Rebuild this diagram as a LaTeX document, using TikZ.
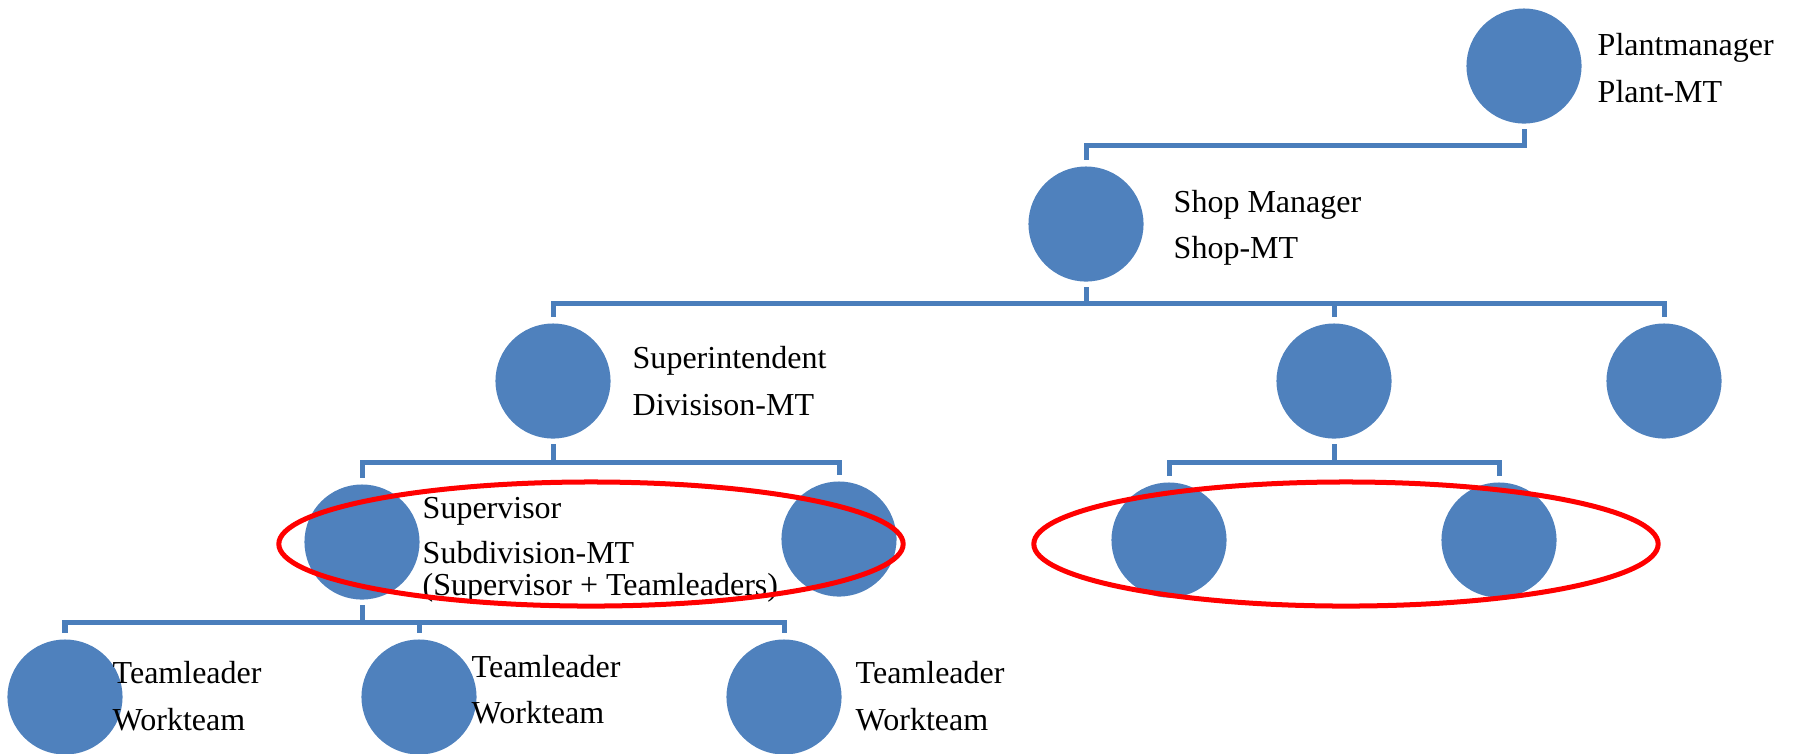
\documentclass[tikz,border=0pt]{standalone}
\usepackage{fontspec}
\setmainfont{Liberation Serif}
\usetikzlibrary{shapes.geometric}

\definecolor{unitblue}{HTML}{4F81BD}
\definecolor{linkblue}{HTML}{4A7EBB}

\begin{document}
\begin{tikzpicture}[x=0.01cm, y=-0.01cm,
	font=\fontsize{9.1}{11}\selectfont,
	unit/.style = { circle, fill=unitblue, inner sep=0pt,
	minimum size=1.15cm },
	link/.style = { draw=linkblue, line width=0.05cm,
	shorten <=0.05cm, shorten >=0.06cm },
	caption/.style = { anchor=base west, inner sep=0pt },
	team/.style = { ellipse, draw=red, line width=0.05cm } ]

  \useasboundingbox (0,0) rectangle (1793,753);

  % circles
  \node [name=plant, unit] at (1524,66) {};
  \node [name=shop, unit] at (1086,224) {};
  \node [name=superint, unit] at (553,381) {};
  \node [name=shopmid, unit] at (1334,381) {};
  \node [name=shopright, unit] at (1664,381) {};
  \node [name=supervisor, unit] at (362,542) {};
  \node [name=supright, unit] at (839,539) {};
  \node [name=midleft, unit] at (1169,540) {};
  \node [name=midright, unit] at (1499,540) {};
  \node [name=tla, unit] at (65,697) {};
  \node [name=tlb, unit] at (419,697) {};
  \node [name=tlc, unit] at (784,697) {};

  % connectors
  \draw [link] (plant.south) -- ++(0,21) -| (shop.north);
  \foreach \kid in {superint, shopmid, shopright}
	\draw [link] (shop.south) -- ++(0,21) -| (\kid.north);
  \foreach \kid in {supervisor, supright}
	\draw [link] (superint.south) -- ++(0,23) -| (\kid.north);
  \foreach \kid in {midleft, midright}
	\draw [link] (shopmid.south) -- ++(0,23) -| (\kid.north);
  \foreach \kid in {tla, tlb, tlc}
	\draw [link] (supervisor.south) -- ++(0,22) -| (\kid.north);

  % texts
  \node [name=plantrole, caption] at (1597,55) {Plantmanager};
  \node [name=plantmt, caption] at (1597,102) {Plant-MT};
  \node [name=shoprole, caption] at (1173,212) {Shop Manager};
  \node [name=shopmt, caption] at (1173,258) {Shop-MT};
  \node [name=superrole, caption] at (632,368) {Superintendent};
  \node [name=supermt, caption] at (632,415) {Divisison-MT};
  \node [name=suprole, caption] at (422,518) {Supervisor};
  \node [name=supmt, caption] at (422,563) {Subdivision-MT};
  \node [name=supnote, caption] at (422,595) {(Supervisor + Teamleaders)};
  \node [name=tlarole, caption] at (112,683) {Teamleader};
  \node [name=tlateam, caption] at (112,730) {Workteam};
  \node [name=tlbrole, caption] at (471,677) {Teamleader};
  \node [name=tlbteam, caption] at (471,723) {Workteam};
  \node [name=tlcrole, caption] at (855,683) {Teamleader};
  \node [name=tlcteam, caption] at (855,730) {Workteam};

  % red rings
  \node [name=subteam, team, minimum width=6.24cm, minimum height=1.24cm]
	at (591,544) {};
  \node [name=midteam, team, minimum width=6.24cm, minimum height=1.24cm]
	at (1346,544) {};
\end{tikzpicture}
\end{document}
